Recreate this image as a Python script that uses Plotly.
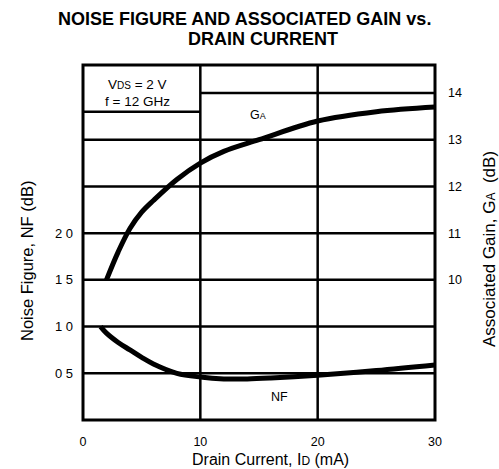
import plotly.graph_objects as go

# Data
id_ga = [2.0, 3.0, 4.0, 5.0, 6.0, 8.0, 10.0, 12.0, 15.0, 20.0, 25.0, 30.0]
ga_db = [10.0, 10.6, 11.1, 11.45, 11.7, 12.15, 12.5, 12.75, 13.0, 13.4, 13.6, 13.7]

id_nf = [1.5, 2.0, 3.0, 4.0, 5.0, 6.0, 8.0, 10.0, 12.0, 14.0, 16.0, 20.0, 25.0, 30.0]
nf_db = [1.0, 0.93, 0.83, 0.75, 0.67, 0.6, 0.5, 0.46, 0.44, 0.44, 0.45, 0.48, 0.53, 0.59]

x_ticks = [0, 10, 20, 30]
nf_ticks = [0.5, 1.0, 1.5, 2.0]
nf_ticktext = ["0 5", "1 0", "1 5", "2 0"]
ga_ticks = [10, 11, 12, 13, 14]

FONT = "Liberation Sans, Arial, sans-serif"
L, R, T, B = 83, 64, 65, 49
W, H = 499, 469
PW, PH = W - L - R, H - T - B


def px(xp):
    return (xp - L) / PW


def py(yp):
    return (H - B - yp) / PH


fig = go.Figure()
fig.add_trace(go.Scatter(x=id_ga, y=ga_db, yaxis="y2", mode="lines",
                         line=dict(color="black", width=5, shape="spline"),
                         name="GA", showlegend=False))
fig.add_trace(go.Scatter(x=id_nf, y=nf_db, mode="lines",
                         line=dict(color="black", width=5, shape="spline"),
                         name="NF", showlegend=False))

shapes = []
for v in [0.5, 1.0, 1.5, 2.0, 2.5, 3.0]:
    shapes.append(dict(type="line", xref="x", yref="y", x0=0, x1=30, y0=v, y1=v,
                       line=dict(color="black", width=2.5), layer="below"))
shapes.append(dict(type="line", xref="x", yref="y2", x0=10, x1=30, y0=14, y1=14,
                   line=dict(color="black", width=2.5), layer="below"))
shapes.append(dict(type="line", xref="x", yref="y", x0=0, x1=10, y0=3.3, y1=3.3,
                   line=dict(color="black", width=2.5), layer="below"))
for v in [10, 20]:
    shapes.append(dict(type="line", xref="x", yref="paper", x0=v, x1=v, y0=0, y1=1,
                       line=dict(color="black", width=2.5), layer="below"))
shapes.append(dict(type="rect", xref="paper", yref="paper", x0=0, x1=1, y0=0, y1=1,
                   line=dict(color="black", width=3)))


def ann(text, x, y, size, angle=0, xref="paper", yref="paper"):
    return dict(text=text, x=x, y=y, xref=xref, yref=yref, showarrow=False,
                xanchor="center", yanchor="middle", textangle=angle,
                font=dict(family=FONT, size=size, color="black"))


annotations = [
    ann("<b>NOISE FIGURE AND ASSOCIATED GAIN vs.</b>", px(244), py(19), 18),
    ann("<b>DRAIN CURRENT</b>", px(263), py(39), 18),
    ann("V<span style='font-size:10px'>DS</span> = 2 V", px(137), py(84), 13.5),
    ann("f = 12 GHz", px(137), py(101), 13.5),
    ann("G<span style='font-size:9px'>A</span>", px(258), py(115), 12.5),
    ann("NF", px(279), py(397), 12.5),
    ann("Noise Figure, NF (dB)", px(27), py(261), 16.5, angle=-90),
    ann("Associated Gain, G<span style='font-size:12px'>A</span>  (dB)", px(489), py(249), 17, angle=-90),
    ann("Drain Current, I<span style='font-size:12px'>D</span> (mA)", px(270), py(459), 16),
]

fig.update_layout(
    width=W, height=H,
    margin=dict(l=L, r=R, t=T, b=B),
    paper_bgcolor="white", plot_bgcolor="white",
    xaxis=dict(range=[0, 30], tickvals=x_ticks, showgrid=False, zeroline=False,
               showline=False, ticks="", ticklabelstandoff=12,
               tickfont=dict(family=FONT, size=12.5, color="black")),
    yaxis=dict(range=[0, 3.8], tickvals=nf_ticks, ticktext=nf_ticktext, showgrid=False,
               zeroline=False, showline=False, ticks="", ticklabelstandoff=9,
               tickfont=dict(family=FONT, size=13, color="black")),
    yaxis2=dict(range=[7, 14.6], tickvals=ga_ticks, overlaying="y", side="right",
                showgrid=False, zeroline=False, showline=False, ticks="",
                ticklabelstandoff=12,
                tickfont=dict(family=FONT, size=12.5, color="black")),
    shapes=shapes,
    annotations=annotations,
    showlegend=False,
)

fig.write_html("out.html", config={"displayModeBar": False},
               post_script="document.body.style.margin='0';document.body.style.overflow='hidden';")
